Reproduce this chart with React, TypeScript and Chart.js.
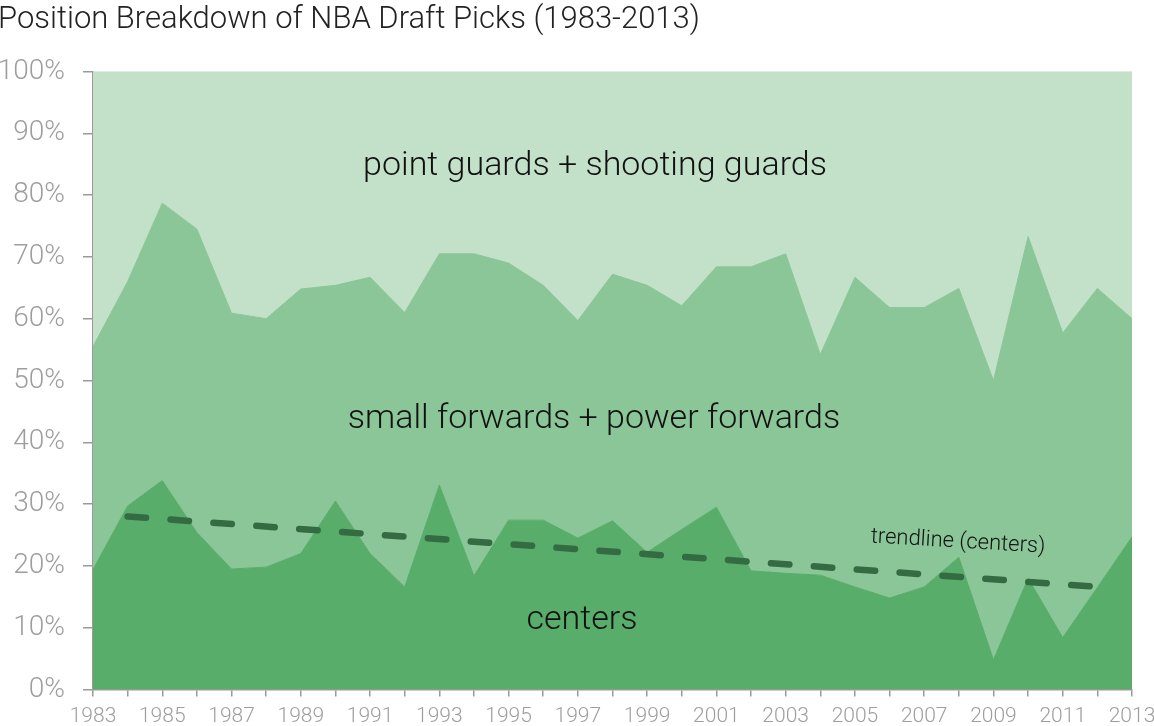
import { useEffect, useRef } from "react"
import { Chart, registerables } from "chart.js"

Chart.register(...registerables)

const years = [
  "1983", "1984", "1985", "1986", "1987", "1988", "1989", "1990", "1991", "1992",
  "1993", "1994", "1995", "1996", "1997", "1998", "1999", "2000", "2001", "2002",
  "2003", "2004", "2005", "2006", "2007", "2008", "2009", "2010", "2011", "2012", "2013",
]

// share of picks in %
const centers = [
  19.4, 29.7, 33.8, 25.4, 19.5, 19.8, 22.0, 30.5, 22.0, 16.6,
  33.1, 18.4, 27.4, 27.4, 24.5, 27.3, 22.2, 25.9, 29.5, 19.2,
  18.8, 18.5, 16.6, 14.8, 16.6, 21.4, 4.8, 18.0, 8.4, 16.5, 24.7,
]
const forwards = [
  36.1, 36.3, 44.9, 49.1, 41.4, 40.2, 42.8, 34.9, 44.7, 44.4,
  37.4, 52.1, 41.6, 38.0, 35.2, 39.9, 43.2, 36.2, 38.9, 49.2,
  51.7, 35.7, 50.1, 47.0, 45.2, 43.5, 45.2, 55.3, 49.3, 48.4, 35.3,
]
const guards = [
  44.5, 34.0, 21.3, 25.5, 39.1, 40.0, 35.2, 34.6, 33.3, 39.0,
  29.5, 29.5, 31.0, 34.6, 40.3, 32.8, 34.6, 37.9, 31.6, 31.6,
  29.5, 45.8, 33.3, 38.2, 38.2, 35.1, 50.0, 26.7, 42.3, 35.1, 40.0,
]
// trendline for centers: its two end points
const trendYears = ["1984", "2012"]
const trendValues = [28.0, 16.6]

const FONT = "Roboto, 'Helvetica Neue', Arial, sans-serif"

const labelsPlugin = {
  id: "areaLabels",
  afterDatasetsDraw(chart: Chart) {
    const { ctx, chartArea } = chart
    const px = (x: number) => chartArea.left + ((x - 93) / 1039) * (chartArea.right - chartArea.left)
    const py = (y: number) => chartArea.top + ((y - 71.5) / 618) * (chartArea.bottom - chartArea.top)
    ctx.save()
    ctx.fillStyle = "#111"
    ctx.textAlign = "center"
    ctx.textBaseline = "middle"
    ctx.font = `300 34px ${FONT}`
    ctx.fillText("point guards + shooting guards", px(595), py(166))
    ctx.fillText("small forwards + power forwards", px(594), py(419))
    ctx.fillText("centers", px(582), py(620))
    ctx.translate(px(958), py(542))
    ctx.rotate(0.058)
    ctx.font = `300 22px ${FONT}`
    ctx.fillText("trendline (centers)", 0, 0)
    ctx.restore()
  },
  afterDraw(chart: Chart) {
    const { ctx } = chart
    ctx.save()
    ctx.fillStyle = "#222"
    ctx.textAlign = "left"
    ctx.textBaseline = "middle"
    ctx.font = `300 31px ${FONT}`
    ctx.fillText("Position Breakdown of NBA Draft Picks (1983-2013)", -2, 20)
    ctx.restore()
  },
}

export default function App() {
  const chartRef = useRef<HTMLCanvasElement>(null)
  const chartInstance = useRef<Chart | null>(null)

  useEffect(() => {
    document.body.style.margin = "0"
    if (!chartRef.current) return
    if (chartInstance.current) chartInstance.current.destroy()

    chartInstance.current = new Chart(chartRef.current, {
      type: "line",
      data: {
        labels: years,
        datasets: [
          {
            label: "centers",
            data: centers,
            fill: "origin",
            backgroundColor: "#57ad69",
            borderColor: "#57ad69",
            borderWidth: 1,
          },
          {
            label: "forwards",
            data: forwards,
            fill: "-1",
            backgroundColor: "#8ac697",
            borderColor: "#8ac697",
            borderWidth: 1,
          },
          {
            label: "guards",
            data: guards,
            fill: "-1",
            backgroundColor: "#c3e1c9",
            borderColor: "#c3e1c9",
            borderWidth: 1,
          },
          {
            label: "trendline",
            data: trendYears.map((y, i) => ({ x: y, y: trendValues[i] })),
            yAxisID: "yTrend",
            order: -1,
            fill: false,
            borderColor: "#356b42",
            borderWidth: 6.5,
            borderDash: [18.5, 24.5],
            borderCapStyle: "round",
          },
        ],
      },
      options: {
        animation: false,
        responsive: true,
        maintainAspectRatio: false,
        elements: {
          line: { tension: 0 },
          point: { radius: 0, hoverRadius: 0 },
        },
        layout: { padding: { top: 71.5, right: 0, left: 0, bottom: 0 } },
        plugins: {
          legend: { display: false },
          tooltip: { enabled: false },
          title: { display: false },
        },
        scales: {
          x: {
            offset: false,
            afterFit: (s: any) => {
              s.height = 36.5
              s.paddingLeft = 0
              s.paddingRight = 22
            },
            border: { color: "#9a9a9a", width: 1.5 },
            grid: { drawOnChartArea: false, drawTicks: true, tickLength: 7, color: "#9a9a9a", lineWidth: 1.5 },
            ticks: {
              autoSkip: false,
              maxRotation: 0,
              padding: 8,
              color: "#9e9e9e",
              font: { family: FONT, size: 21, weight: "300" },
              callback: (_v: any, i: number) => (i % 2 === 0 ? years[i] : ""),
            },
          },
          y: {
            stacked: true,
            min: 0,
            max: 100,
            afterFit: (s: any) => {
              s.width = 93
            },
            border: { color: "#9a9a9a", width: 1.5 },
            grid: { drawOnChartArea: false, drawTicks: true, tickLength: 10, color: "#9a9a9a", lineWidth: 1.5 },
            ticks: {
              stepSize: 10,
              padding: 18,
              color: "#9e9e9e",
              font: { family: FONT, size: 28, weight: "300" },
              callback: (v: any) => `${v}%`,
            },
          },
          yTrend: {
            display: false,
            min: 0,
            max: 100,
          },
        },
      },
      plugins: [labelsPlugin],
    })

    return () => {
      if (chartInstance.current) {
        chartInstance.current.destroy()
        chartInstance.current = null
      }
    }
  }, [])

  return (
    <div style={{ position: "relative", width: 1154, height: 726, background: "#fff" }}>
      <canvas ref={chartRef}></canvas>
    </div>
  )
}
